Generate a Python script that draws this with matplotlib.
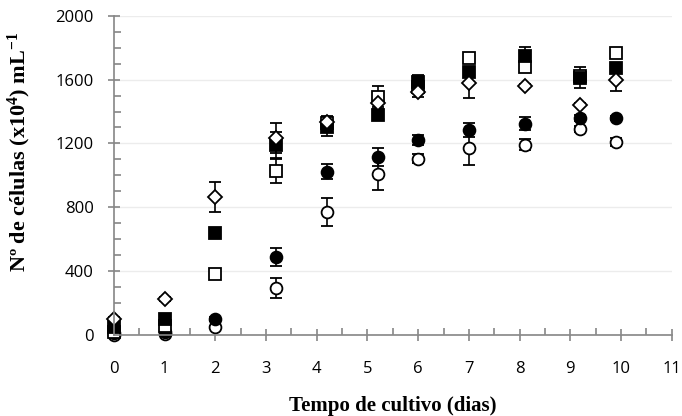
import matplotlib.pyplot as plt
import numpy as np

# days of culture (points are slightly offset in the original)
dias = [0, 1, 2, 3.2, 4.2, 5.2, 6, 7, 8.1, 9.2, 9.9]

# cell counts (x10^4 mL-1)
quad_cheio = [50, 100, 640, 1190, 1305, 1380, 1585, 1645, 1745, 1612, 1675]
quad_cheio_err = [15, 20, 20, 80, 60, 20, 45, 30, 60, 65, 30]
quad_vazio = [20, 55, 382, 1028, 1330, 1492, 1555, 1737, 1680, 1620, 1768]
quad_vazio_err = [10, 15, 20, 75, 40, 65, 30, 20, 20, 30, 20]
circ_cheio = [10, 20, 100, 489, 1022, 1116, 1223, 1285, 1323, 1360, 1360]
circ_cheio_err = [5, 5, 10, 55, 48, 55, 30, 44, 40, 20, 15]
circ_vazio = [0, 5, 50, 295, 771, 1010, 1105, 1172, 1193, 1292, 1210]
circ_vazio_err = [3, 3, 8, 63, 88, 100, 30, 106, 35, 20, 25]
losango = [100, 225, 865, 1235, 1335, 1453, 1520, 1580, 1561, 1442, 1600]
losango_err = [10, 10, 95, 95, 30, 40, 30, 94, 10, 10, 70]

plt.rcParams['mathtext.fontset'] = 'custom'
plt.rcParams['mathtext.rm'] = 'Liberation Serif:bold'
plt.rcParams['mathtext.it'] = 'Liberation Serif:bold'
plt.rcParams['mathtext.bf'] = 'Liberation Serif:bold'

fig = plt.figure(figsize=(6.82, 4.16), dpi=100)
ax = fig.add_axes([0.167, 0.195, 0.818, 0.767])

ebkw = dict(ls='none', ecolor='black', elinewidth=1.2, capsize=4, capthick=1.2,
            markeredgecolor='black', markeredgewidth=1.3, clip_on=False)
ax.errorbar(dias, circ_vazio, yerr=circ_vazio_err, marker='o', ms=8.5, mfc='white', **ebkw)
ax.errorbar(dias, circ_cheio, yerr=circ_cheio_err, marker='o', ms=8.5, mfc='black', **ebkw)
ax.errorbar(dias, quad_vazio, yerr=quad_vazio_err, marker='s', ms=8, mfc='white', **ebkw)
ax.errorbar(dias, quad_cheio, yerr=quad_cheio_err, marker='s', ms=8, mfc='black', **ebkw)
ax.errorbar(dias, losango, yerr=losango_err, marker='D', ms=7, mfc='white', **ebkw)

ax.set_xlim(0, 11)
ax.set_ylim(0, 2000)
ax.set_xticks(np.arange(0, 12, 1))
ax.set_xticks(np.arange(0.5, 11, 1), minor=True)
ax.set_yticks(np.arange(0, 2001, 400))
ax.set_yticks(np.arange(100, 2000, 100), minor=True)
ax.yaxis.grid(True, color='#ececec', lw=1)
ax.set_axisbelow(True)

for s in ['top', 'right']:
    ax.spines[s].set_visible(False)
for s in ['left', 'bottom']:
    ax.spines[s].set_color('#868686')
    ax.spines[s].set_linewidth(1.2)

ax.tick_params(which='major', direction='inout', length=9, width=1.2, color='#868686',
               labelsize=12, labelcolor='black')
ax.tick_params(which='minor', direction='in', length=5, width=1.2, color='#868686')
ax.tick_params(axis='x', which='major', pad=14)
ax.tick_params(axis='y', which='major', pad=10)
for lab in ax.get_xticklabels() + ax.get_yticklabels():
    lab.set_family('Open Sans')

ax.set_xlabel('Tempo de cultivo (dias)', family='Liberation Serif', fontweight='bold',
              fontsize=15)
ax.set_ylabel('Nº de células (x10$^4$) mL$^{-1}$', family='Liberation Serif', fontweight='bold',
              fontsize=16)
ax.xaxis.set_label_coords(0.5, -0.19)
ax.yaxis.set_label_coords(-0.145, 0.575)

fig.savefig('out.png', dpi=100)
